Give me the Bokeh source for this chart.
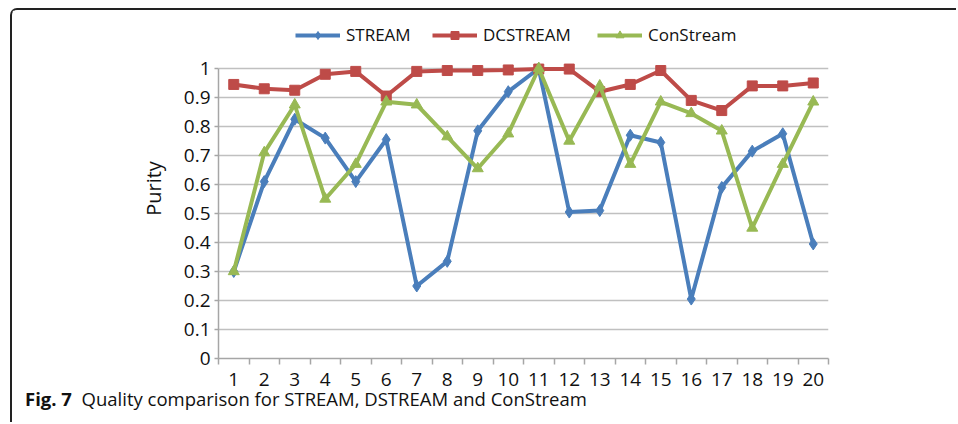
from bokeh.plotting import figure
from bokeh.models import Range1d, FixedTicker, Legend, LegendItem, Div
from bokeh.embed import file_html
from bokeh.resources import INLINE

# ---- data ----
categories = list(range(1, 21))
tick_labels = [str(c) for c in categories]
stream = [0.30, 0.61, 0.825, 0.76, 0.61, 0.755, 0.25, 0.335, 0.785, 0.92,
          1.00, 0.505, 0.51, 0.77, 0.745, 0.205, 0.59, 0.715, 0.775, 0.395]
dcstream = [0.945, 0.93, 0.925, 0.98, 0.99, 0.905, 0.99, 0.993, 0.993, 0.995,
            0.998, 0.998, 0.92, 0.945, 0.993, 0.89, 0.855, 0.94, 0.94, 0.95]
constream = [0.30, 0.71, 0.875, 0.55, 0.67, 0.885, 0.875, 0.765, 0.655, 0.775,
             1.00, 0.75, 0.94, 0.67, 0.885, 0.845, 0.785, 0.45, 0.67, 0.885]
series_names = ["STREAM", "DCSTREAM", "ConStream"]
y_ticks = [0, 0.1, 0.2, 0.3, 0.4, 0.5, 0.6, 0.7, 0.8, 0.9, 1]
caption_bold = "Fig. 7"
caption_text = "Quality comparison for STREAM, DSTREAM and ConStream"

FONT = "Open Sans"
TXT = "#111111"
AXC = "#a6a6a6"
BLUE, RED, GREEN = "#4a7ebb", "#be4b48", "#98b954"

# the frame reaches up to the legend row (legends are drawn inside the frame);
# the value axis itself is bounded to 0..1
p = figure(width=946, height=392, output_backend="svg", toolbar_location=None,
           x_range=Range1d(0.5, 20.5), y_range=Range1d(0, 1.1724),
           min_border_left=206, min_border_right=130, min_border_top=8,
           min_border_bottom=44)
p.styles = {"margin-left": "10px", "margin-top": "8px",
            "border-left": "2px solid #222222",
            "border-top": "2px solid #222222",
            "border-top-left-radius": "7px"}
p.outline_line_color = None
p.xgrid.grid_line_color = None
p.ygrid.grid_line_color = "#c0c0c0"
p.ygrid.grid_line_width = 1.5
p.ygrid.ticker = FixedTicker(ticks=y_ticks)

# x axis (category ticks between the points)
xa = p.xaxis[0]
xa.ticker = FixedTicker(ticks=categories,
                        minor_ticks=[c - 0.5 for c in categories] + [20.5])
xa.major_label_overrides = {c: t for c, t in zip(categories, tick_labels)}
xa.major_tick_line_color = None
xa.major_tick_out = 0
xa.major_tick_in = 0
xa.minor_tick_out = 6
xa.minor_tick_in = 0
xa.minor_tick_line_color = AXC
xa.minor_tick_line_width = 1.5
xa.axis_line_color = AXC
xa.axis_line_width = 1.5
xa.major_label_standoff = 8
xa.major_label_text_font = FONT
xa.major_label_text_font_size = "19px"
xa.major_label_text_color = TXT

# y axis
ya = p.yaxis[0]
ya.ticker = FixedTicker(ticks=y_ticks)
ya.bounds = (0, 1)
ya.minor_tick_line_color = None
ya.major_tick_out = 4
ya.major_tick_in = 0
ya.major_tick_line_color = AXC
ya.major_tick_line_width = 1.5
ya.axis_line_color = AXC
ya.axis_line_width = 1.5
ya.major_label_standoff = 4
ya.major_label_text_font = FONT
ya.major_label_text_font_size = "19px"
ya.major_label_text_color = TXT
ya.axis_label = "Purity"
ya.axis_label_text_font = FONT
ya.axis_label_text_font_size = "20px"
ya.axis_label_text_font_style = "normal"
ya.axis_label_text_color = TXT
ya.axis_label_standoff = 14

styles = [(BLUE, "diamond", 12), (RED, "square", 10), (GREEN, "triangle", 11)]
legend_x = [77, 214, 379]
for name, vals, (col, mk, sz), lx in zip(series_names,
                                          [stream, dcstream, constream],
                                          styles, legend_x):
    l = p.line(categories, vals, line_color=col, line_width=4)
    s = p.scatter(categories, vals, marker=mk, size=sz, fill_color=col,
                  line_color=col)
    lg = Legend(items=[LegendItem(label=name, renderers=[l, s])],
                location=(lx, 312), glyph_width=45, glyph_height=20,
                label_standoff=6, padding=0, margin=0, spacing=0,
                border_line_color=None, background_fill_alpha=0,
                label_text_font=FONT, label_text_font_size="17px",
                label_text_color=TXT)
    p.add_layout(lg, "center")

caption = Div(
    text=('<span style="position:relative; top:-4px; white-space:nowrap;">'
          '<b>' + caption_bold + '</b>&nbsp;&nbsp;' + caption_text + '</span>'),
    width=930, height=30,
    styles={"margin-left": "10px", "margin-top": "-8px",
            "border-left": "2px solid #222222",
            "font-family": "'Open Sans', sans-serif", "font-size": "18.5px",
            "line-height": "22px", "color": TXT, "padding-left": "13px"})

open("out.html", "w").write(file_html([p, caption], INLINE))
